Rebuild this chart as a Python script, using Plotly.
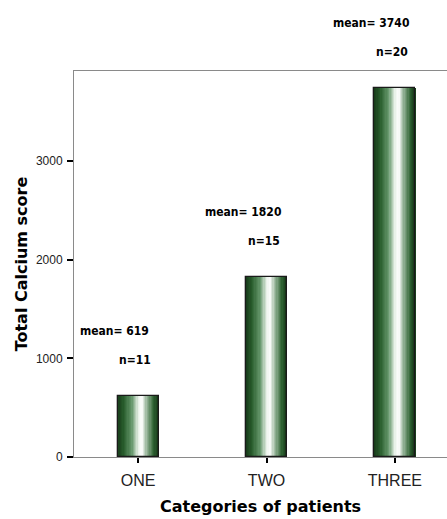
import plotly.graph_objects as go

categories = ["ONE", "TWO", "THREE"]
means = [619, 1820, 3740]
counts = [11, 15, 20]
mean_labels = ["mean= 619", "mean= 1820", "mean= 3740"]
n_labels = ["n=11", "n=15", "n=20"]
y_ticks = [0, 1000, 2000, 3000]

BAR_W = 0.32
N_STRIPS = 32
# horizontal shading profile of each bar (position across bar, rgb)
SHADE = [
    (0.00, (22, 56, 24)),
    (0.15, (40, 92, 44)),
    (0.35, (100, 150, 106)),
    (0.52, (236, 244, 236)),
    (0.60, (255, 255, 255)),
    (0.72, (150, 180, 152)),
    (0.88, (48, 100, 52)),
    (1.00, (22, 56, 24)),
]


def strip_color(t):
    for (t0, c0), (t1, c1) in zip(SHADE[:-1], SHADE[1:]):
        if t0 <= t <= t1:
            f = (t - t0) / (t1 - t0)
            c = [int(c0[i] + (c1[i] - c0[i]) * f) for i in range(3)]
            return f"rgb({c[0]},{c[1]},{c[2]})"
    return "rgb(22,56,24)"


fig = go.Figure()
sw = BAR_W / N_STRIPS
for k in range(N_STRIPS):
    t = (k + 0.5) / N_STRIPS
    fig.add_trace(go.Bar(
        x=categories, y=means,
        width=[sw * 1.08] * 3,
        offset=[-BAR_W / 2 + k * sw] * 3,
        marker=dict(color=strip_color(t), line=dict(width=0)),
        showlegend=False, hoverinfo="skip",
    ))
fig.add_trace(go.Bar(
    x=categories, y=means,
    width=[BAR_W] * 3,
    marker=dict(color="rgba(0,0,0,0)", line=dict(color="#1a1a1a", width=1.3)),
    showlegend=False,
))

ann_font = dict(family="DejaVu Sans Condensed, Liberation Sans", size=12, color="black")
for c, m, ml, nl in zip(categories, means, mean_labels, n_labels):
    fig.add_annotation(x=c, y=m, text=f"<b>{ml}</b>", showarrow=False,
                       xshift=-24, yshift=65, font=ann_font, yanchor="middle")
    fig.add_annotation(x=c, y=m, text=f"<b>{nl}</b>", showarrow=False,
                       xshift=-3, yshift=36, font=ann_font, yanchor="middle")

title_font = dict(family="DejaVu Sans, Verdana", size=16, color="black")

fig.update_layout(
    width=447, height=519,
    margin=dict(l=74, r=0, t=71, b=62),
    paper_bgcolor="white", plot_bgcolor="white",
    barmode="overlay", bargap=0,
    font=dict(family="Liberation Sans, Arial", color="black"),
    xaxis=dict(
        range=[-0.5, 2.406], automargin=False,
        showline=True, linecolor="#8a8a8a", linewidth=1, mirror=True,
        ticks="outside", ticklen=5, tickwidth=2, tickcolor="black",
        ticklabelstandoff=4,
        tickfont=dict(size=16, color="#222"),
        showgrid=False, zeroline=False,
        title=dict(text="<b>Categories of patients</b>", font=title_font, standoff=12),
    ),
    yaxis=dict(
        range=[0, 3911], automargin=False,
        tickvals=y_ticks,
        showline=True, linecolor="#8a8a8a", linewidth=1,
        ticks="outside", ticklen=6, tickwidth=2, tickcolor="black",
        ticklabelstandoff=2,
        tickfont=dict(size=12, color="#222"),
        showgrid=False, zeroline=False,
        title=dict(text="<b>Total Calcium score</b>", font=title_font, standoff=4),
    ),
)

fig.write_html(
    "out.html",
    config={"displayModeBar": False},
    post_script="document.body.style.margin='0';document.body.style.overflow='hidden';",
)
